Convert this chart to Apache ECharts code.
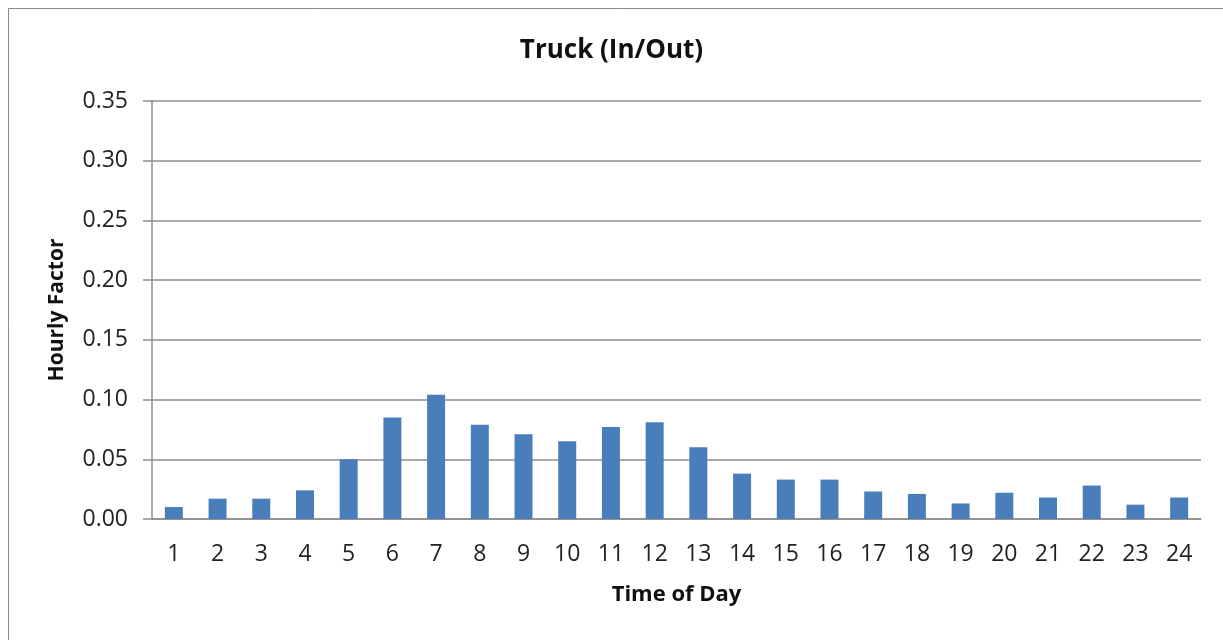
<!DOCTYPE html>
<html>
<head>
<meta charset="utf-8">
<title>Truck (In/Out)</title>
<script src="https://cdn.jsdelivr.net/npm/echarts@6/dist/echarts.min.js"></script>
<style>
  html, body { margin: 0; padding: 0; background: #ffffff; }
  #chart { width: 1223px; height: 640px; }
</style>
</head>
<body>
<div id="chart"></div>
<script>
// Hour of day (1–24) and the truck hourly factor for each hour
const hours = ['1','2','3','4','5','6','7','8','9','10','11','12','13','14','15','16','17','18','19','20','21','22','23','24'];
const hourlyFactor = [0.010, 0.017, 0.017, 0.024, 0.050, 0.085, 0.104, 0.079, 0.071, 0.065, 0.077, 0.081, 0.060, 0.038, 0.033, 0.033, 0.023, 0.021, 0.013, 0.022, 0.018, 0.028, 0.012, 0.018];
const yTicks = { min: 0, max: 0.35, interval: 0.05 };

const FONT = '"Open Sans", "DejaVu Sans", sans-serif';
const chart = echarts.init(document.getElementById('chart'), null, { renderer: 'canvas' });

chart.setOption({
  animation: false,
  backgroundColor: '#ffffff',
  title: {
    text: 'Truck (In/Out)',
    left: 'center',
    top: 33,
    textStyle: { fontFamily: FONT, fontSize: 26, fontWeight: 'bold', color: '#111111' }
  },
  graphic: [{
    type: 'rect',
    shape: { x: 8.5, y: 8.5, width: 1240, height: 660 },
    style: { fill: 'none', stroke: '#8a8a8a', lineWidth: 1 },
    silent: true
  }],
  grid: { left: 152, right: 22, top: 101, bottom: 121, containLabel: false },
  xAxis: {
    type: 'category',
    data: hours,
    name: 'Time of Day',
    nameLocation: 'middle',
    nameGap: 65,
    nameTextStyle: { fontFamily: FONT, fontSize: 22, fontWeight: 'bold', color: '#111111' },
    axisLine: { lineStyle: { color: '#8c8c8c', width: 1.5 } },
    axisTick: { show: false },
    axisLabel: { fontFamily: FONT, fontSize: 23, color: '#222222', margin: 24, interval: 0 }
  },
  yAxis: {
    type: 'value',
    min: yTicks.min,
    max: yTicks.max,
    interval: yTicks.interval,
    name: 'Hourly Factor',
    nameLocation: 'middle',
    nameGap: 84,
    nameTextStyle: { fontFamily: FONT, fontSize: 21, fontWeight: 'bold', color: '#111111' },
    axisLine: { show: true, lineStyle: { color: '#8c8c8c', width: 1.5 } },
    axisTick: { show: true, length: 9, lineStyle: { color: '#8c8c8c', width: 1.5 } },
    axisLabel: {
      fontFamily: FONT, fontSize: 23, color: '#222222', margin: 24,
      formatter: v => v.toFixed(2)
    },
    splitLine: { lineStyle: { color: '#8c8c8c', width: 1.5 } }
  },
  series: [{
    type: 'bar',
    data: hourlyFactor,
    barWidth: 18,
    itemStyle: { color: '#4a7ebb' }
  }]
});
</script>
</body>
</html>
